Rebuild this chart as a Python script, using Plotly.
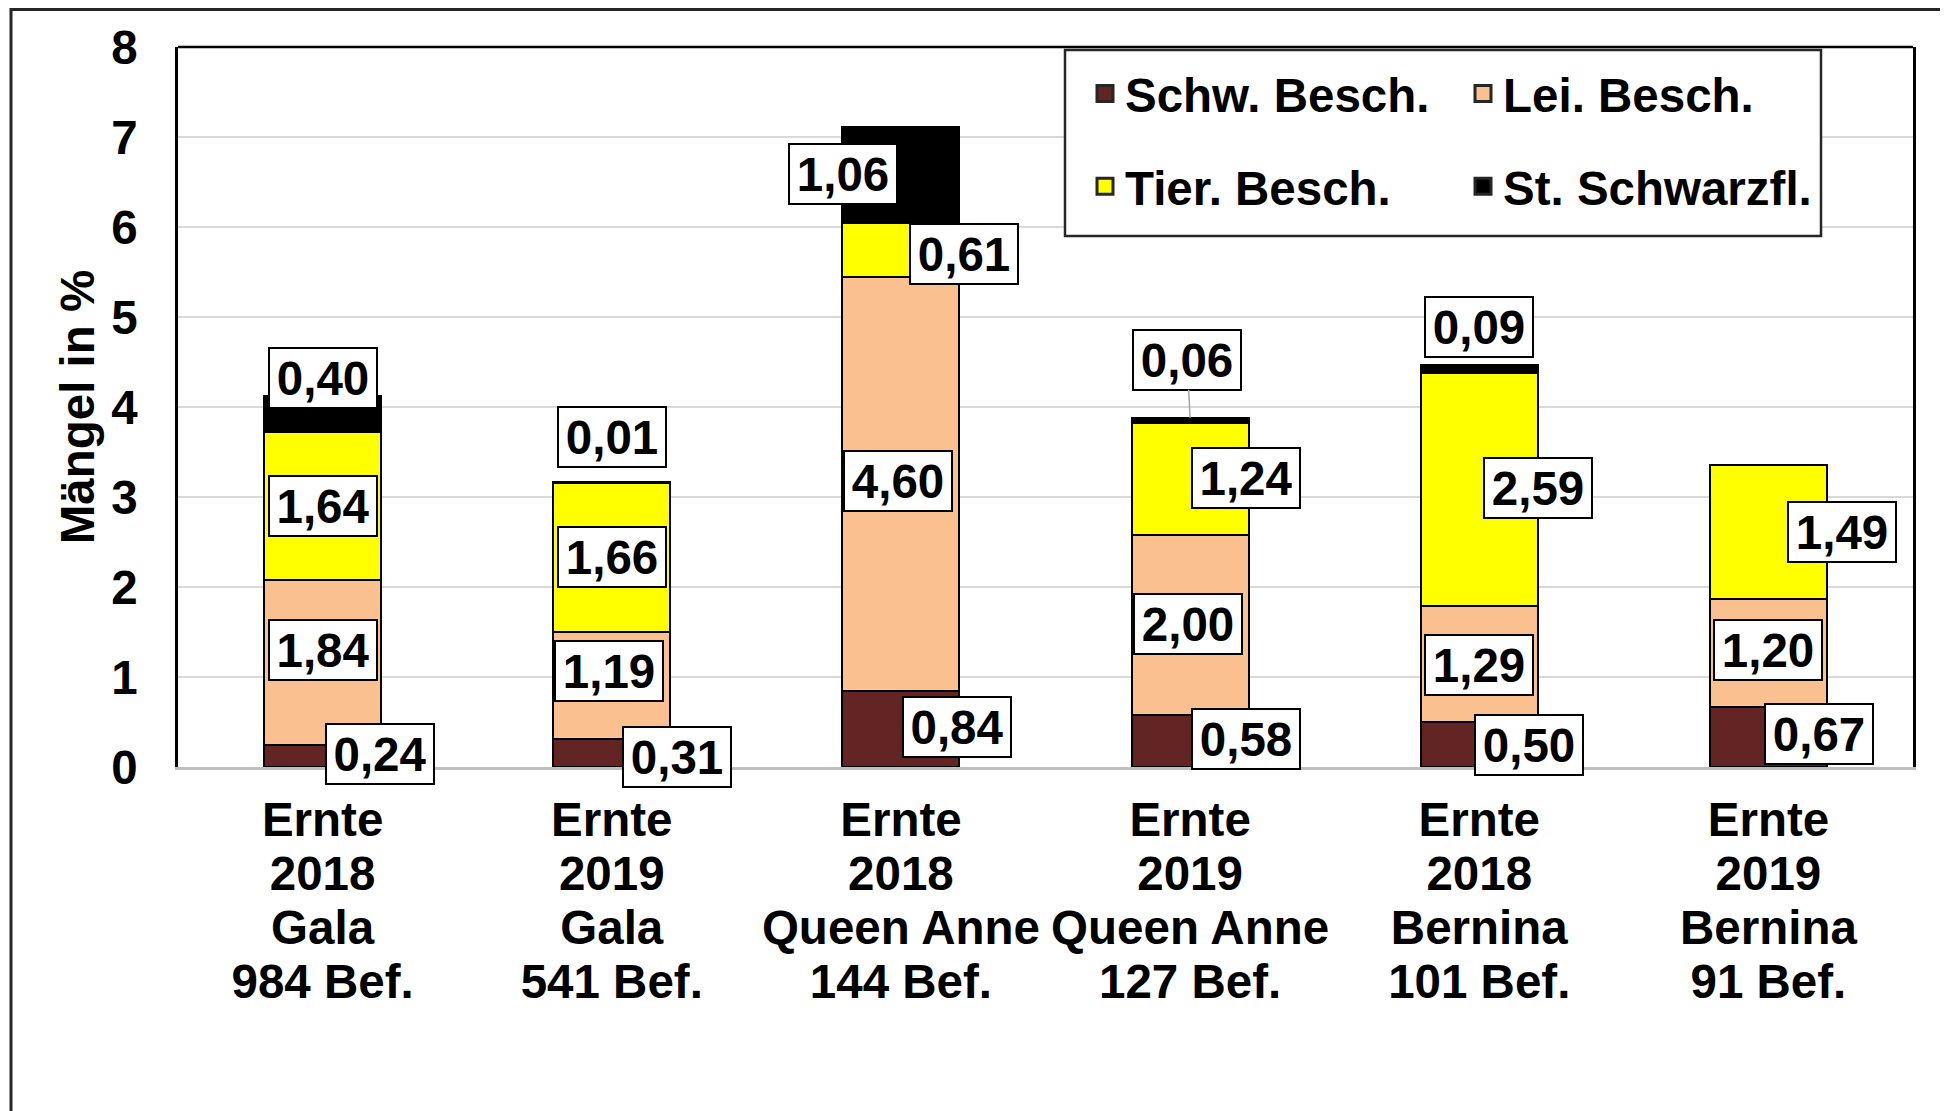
import plotly.graph_objects as go

# ---------------- data ----------------
years = ["2018", "2019", "2018", "2019", "2018", "2019"]
varieties = ["Gala", "Gala", "Queen Anne", "Queen Anne", "Bernina", "Bernina"]
samples = [984, 541, 144, 127, 101, 91]

series_names = ["Schw. Besch.", "Lei. Besch.", "Tier. Besch.", "St. Schwarzfl."]
schw = [0.24, 0.31, 0.84, 0.58, 0.50, 0.67]
lei = [1.84, 1.19, 4.60, 2.00, 1.29, 1.20]
tier = [1.64, 1.66, 0.61, 1.24, 2.59, 1.49]
st = [0.40, 0.01, 1.06, 0.06, 0.09, 0.00]

y_ticks = [0, 1, 2, 3, 4, 5, 6, 7, 8]

# ---------------- styles / label placement ----------------
colors = ["#632523", "#FAC090", "#FFFF00", "#000000"]
FONT = "Arial, 'Liberation Sans', sans-serif"
FS = 47.5

# pixel offsets of each data label from the middle of its segment
schw_off = [(57, 2), (65, -4), (56, 2), (56, 2), (50, 0), (51, 3)]
lei_off = [(0, 13), (-3, 15), (-3, 3), (-2, 1), (0, -1), (0, 3)]
tier_off = [(0, 0), (0, 0), (63, -4), (56, 1), (59, 1), (74, 0)]
st_off = [(0, 36), (0, 45), (-58, 1), None, (0, 42), None]
leader = {3: (-3, -58)}  # label with a leader line: (ax, ay) from stack top

series = [schw, lei, tier, st]
offsets = [schw_off, lei_off, tier_off, st_off]

x = list(range(len(years)))
ticktext = [
    f'<span style="font-size:{FS}px">Ernte<br>{y}<br>{v}<br>{n} Bef.</span>'
    for y, v, n in zip(years, varieties, samples)
]

fig = go.Figure()
for name, vals, col in zip(series_names, series, colors):
    fig.add_trace(go.Bar(
        x=x, y=vals, name=name, marker=dict(color=col, line=dict(color="#000000", width=2)),
        showlegend=False, hoverinfo="skip",
    ))

# legend entries (square markers)
for i, (name, col) in enumerate(zip(series_names, colors)):
    fig.add_trace(go.Scatter(
        x=[None], y=[None], mode="markers", name=name,
        marker=dict(symbol="square", size=16, color=col, line=dict(color="#262626", width=3)),
        legend="legend" if i in (0, 2) else "legend2",
        legendgroup=name,
    ))

# data labels
annotations = []
base = [0.0] * len(x)
for vals, offs in zip(series, offsets):
    for i, v in enumerate(vals):
        mid = base[i] + v / 2
        txt = f"{v:.2f}".replace(".", ",")
        common = dict(
            text=txt, font=dict(family=FONT, size=FS, color="black", weight="bold"),
            bgcolor="white", bordercolor="black", borderwidth=2, borderpad=2,
            width=102, height=54, xref="x", yref="y",
        )
        if vals is st and i in leader:
            ax, ay = leader[i]
            annotations.append(dict(
                x=i, y=base[i] + v, showarrow=True, arrowhead=0, arrowwidth=1.5,
                arrowcolor="#a6a6a6", ax=ax, ay=ay, axref="pixel", ayref="pixel",
                standoff=0, **common))
        elif v > 0 and offs[i] is not None:
            dx, dy = offs[i]
            annotations.append(dict(x=i, y=mid, showarrow=False, xshift=dx, yshift=dy, **common))
        base[i] += v

# the page places the figure 8 px from the window's top-left corner
PAGE = 8
W, H = 1940, 1103
L, R, T, B = 170, 35, 39, 344
pw, ph = W - L - R, H - T - B


def px_x(p):
    """screen x -> paper x"""
    return (p - PAGE - L) / pw


def px_y(p):
    """screen y -> paper y"""
    return (H - B - (p - PAGE)) / ph


shapes = [
    # outer chart frame
    dict(type="rect", xref="paper", yref="paper", x0=px_x(11), x1=px_x(1944),
         y0=px_y(1130), y1=px_y(9.5), line=dict(color="#262626", width=3), layer="below"),
    # top border of plot area
    dict(type="line", xref="paper", yref="paper", x0=0, x1=1, y0=1, y1=1,
         line=dict(color="black", width=2.5), layer="above"),
    # legend frame
    dict(type="rect", xref="paper", yref="paper", x0=px_x(1065), x1=px_x(1821),
         y0=px_y(236), y1=px_y(50), line=dict(color="#262626", width=2.5),
         fillcolor="white", layer="above"),
]

legend_common = dict(
    font=dict(family=FONT, size=FS, color="black", weight="bold"),
    bgcolor="rgba(0,0,0,0)", borderwidth=0, orientation="v",
    xanchor="left", yanchor="top", tracegroupgap=28, itemsizing="trace",
)

fig.update_layout(
    width=W, height=H,
    margin=dict(l=L, r=R, t=T, b=B, autoexpand=False),
    paper_bgcolor="white", plot_bgcolor="white",
    barmode="stack", bargap=0.595,
    font=dict(family=FONT, size=FS, color="black", weight="bold"),
    xaxis=dict(
        range=[-0.5, len(x) - 0.5], tickvals=x, ticktext=ticktext,
        tickfont=dict(family=FONT, size=41.5, color="black", weight="bold"),
        showgrid=False, showline=True, linecolor="#bfbfbf", linewidth=3,
        ticks="", ticklabelstandoff=16, zeroline=False, automargin=False,
    ),
    yaxis=dict(
        range=[0, 8], tickvals=y_ticks, ticktext=[str(t) for t in y_ticks],
        tickfont=dict(family=FONT, size=FS, color="black", weight="bold"),
        showgrid=True, gridcolor="#d9d9d9", gridwidth=2,
        showline=True, linecolor="black", linewidth=2.5, mirror=True,
        ticks="", ticklabelstandoff=28, zeroline=False, automargin=False,
        title=dict(text="Mängel in %", font=dict(family=FONT, size=FS, color="black", weight="bold"),
                   standoff=2),
    ),
    legend=dict(x=px_x(1085), y=px_y(56), **legend_common),
    legend2=dict(x=px_x(1463), y=px_y(56), **legend_common),
    shapes=shapes,
    annotations=annotations,
)

fig.write_html("out.html")
